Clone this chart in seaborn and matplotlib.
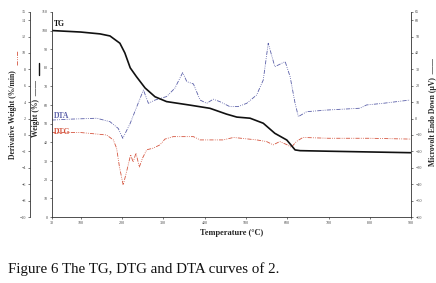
import numpy as np
import pandas as pd
import seaborn as sns
import matplotlib
matplotlib.use("Agg")
import matplotlib.pyplot as plt
from matplotlib.lines import Line2D

# ---- data ----
tg_temp = [30, 100, 147, 171, 195, 207, 220, 235, 256, 280, 308, 365, 413, 453,
           478, 510, 542, 570, 599, 619, 631, 700, 800, 900]
tg_weight = [100, 99.2, 98.2, 97.1, 93.2, 88, 80, 75.3, 69.2, 64.5, 61.9, 60, 58.3, 55.2,
             53.6, 53, 50.3, 44.9, 41.3, 36, 35.6, 35.3, 34.9, 34.5]

dta_temp = [30, 80, 139, 171, 191, 202, 220, 236, 252, 264, 280, 308, 328, 347, 357,
            373, 389, 405, 421, 437, 461, 481, 502, 526, 542, 554, 570, 595, 607, 619,
            627, 647, 696, 776, 792, 832, 897]
dta_uv = [-0.9, -0.3, 0.2, -1.9, -6, -12, -2.9, 7.3, 17.4, 9.3, 11.3, 13.4, 18.5, 28, 22.5,
          21.1, 11.3, 9.3, 11.8, 10.3, 7.3, 7.3, 9.3, 14.4, 23.5, 45.9, 31.6, 34.7, 25.5, 9.3,
          1.2, 4.2, 5.2, 6.3, 8.3, 9.3, 11.3]

dtg_temp = [30, 100, 163, 179, 187, 194, 203, 213, 221, 227, 234, 242, 250, 260, 276,
            292, 304, 324, 373, 389, 445, 470, 526, 550, 566, 582, 600, 610, 622, 638,
            700, 800, 900]
dtg_rate = [0.3, 0.3, 0, -0.6, -1.6, -3.9, -6.1, -4.1, -2.4, -3.3, -2.2, -3.9, -2.8, -1.8,
            -1.6, -1.2, -0.5, -0.2, -0.2, -0.6, -0.6, -0.3, -0.6, -0.8, -1.2, -0.8, -1.2,
            -1.5, -0.8, -0.3, -0.4, -0.4, -0.5]

x_ticks = [30, 100, 200, 300, 400, 500, 600, 700, 800, 900]
weight_ticks = list(range(0, 111, 10))
deriv_ticks = list(range(-10, 15, 2)) + [15]
uv_ticks = list(range(-60, 61, 10)) + [65]

caption = "Figure 6 The TG, DTG and DTA curves of 2."

tg = pd.DataFrame({"T": tg_temp, "v": tg_weight})
dta = pd.DataFrame({"T": dta_temp, "v": dta_uv})
dtg = pd.DataFrame({"T": dtg_temp, "v": dtg_rate})

sns.set_theme(style="ticks")
plt.rcParams["font.family"] = ["Liberation Serif", "DejaVu Serif"]

tg_color = "#111111"
dta_color = "#5a5fa8"
dtg_color = "#d5553f"
dash = (0, (5, 1.5, 1, 1.5, 1, 1.5))

fig = plt.figure(figsize=(4.36, 2.83), dpi=100)
ax = fig.add_axes([0.1186, 0.233, 0.8245, 0.725])
ax_d = ax.twinx()
ax_u = ax.twinx()

sns.lineplot(data=dtg, x="T", y="v", ax=ax_d, color=dtg_color, lw=0.6, linestyle=dash)
sns.lineplot(data=dta, x="T", y="v", ax=ax_u, color=dta_color, lw=0.6, linestyle=dash)
sns.lineplot(data=tg, x="T", y="v", ax=ax, color=tg_color, lw=1.2)
ax.set_zorder(3)
ax.patch.set_visible(False)

# weight axis (inner left)
ax.set_xlim(30, 900)
ax.set_ylim(0, 110)
ax.set_xticks(x_ticks)
ax.set_yticks(weight_ticks)
ax.spines["top"].set_visible(False)
ax.spines["right"].set_visible(False)
ax.set_xlabel("Temperature (°C)", fontsize=6, fontweight="bold", labelpad=3)
ax.set_ylabel("Weight (%)  ——", fontsize=5.5, fontweight="bold")
ax.yaxis.set_label_coords(-0.033, 0.53)
ax.tick_params(labelsize=3, length=1.5, width=0.5, pad=1.5, colors="#444444")

# derivative axis (outer left)
ax_d.set_ylim(-10, 15)
ax_d.set_yticks(deriv_ticks)
ax_d.spines["left"].set_position(("axes", -0.06))
ax_d.spines["left"].set_visible(True)
ax_d.yaxis.set_label_position("left")
ax_d.yaxis.set_ticks_position("left")
for s in ["top", "right", "bottom"]:
    ax_d.spines[s].set_visible(False)
ax_d.set_ylabel("Derivative Weight (%/min)", fontsize=5.5, fontweight="bold")
ax_d.yaxis.set_label_coords(-0.097, 0.5)
ax_d.tick_params(labelsize=3, length=1.5, width=0.5, pad=1.5, colors="#444444")

# microvolt axis (right)
ax_u.set_ylim(-60, 65)
ax_u.set_yticks(uv_ticks)
for s in ["top", "left", "bottom"]:
    ax_u.spines[s].set_visible(False)
ax_u.set_ylabel("Microvolt Endo Down (µV)  ——", fontsize=5.5, fontweight="bold")
ax_u.yaxis.set_label_coords(1.05, 0.51)
ax_u.tick_params(labelsize=3, length=1.5, width=0.5, pad=1.5, colors="#444444")

for a in (ax, ax_d, ax_u):
    for s in a.spines.values():
        s.set_linewidth(0.6)
        s.set_color("#333333")

# curve labels
ax.text(0.005, 0.93, "TG", transform=ax.transAxes, fontsize=5.5, fontweight="bold", color=tg_color)
ax.text(0.005, 0.485, "DTA", transform=ax.transAxes, fontsize=5.5, fontweight="bold", color=dta_color)
ax.text(0.005, 0.405, "DTG", transform=ax.transAxes, fontsize=5.5, fontweight="bold", color=dtg_color)

# axis key marks next to axis labels
fig.add_artist(Line2D([0.039, 0.039], [0.77, 0.825], color=dtg_color, lw=0.6, linestyle=dash))
fig.add_artist(Line2D([0.0895, 0.0895], [0.735, 0.777], color=tg_color, lw=1.0))

fig.text(0.018, 0.035, caption, fontsize=10.8, color="#111111")

fig.savefig("out.png", dpi=100)
